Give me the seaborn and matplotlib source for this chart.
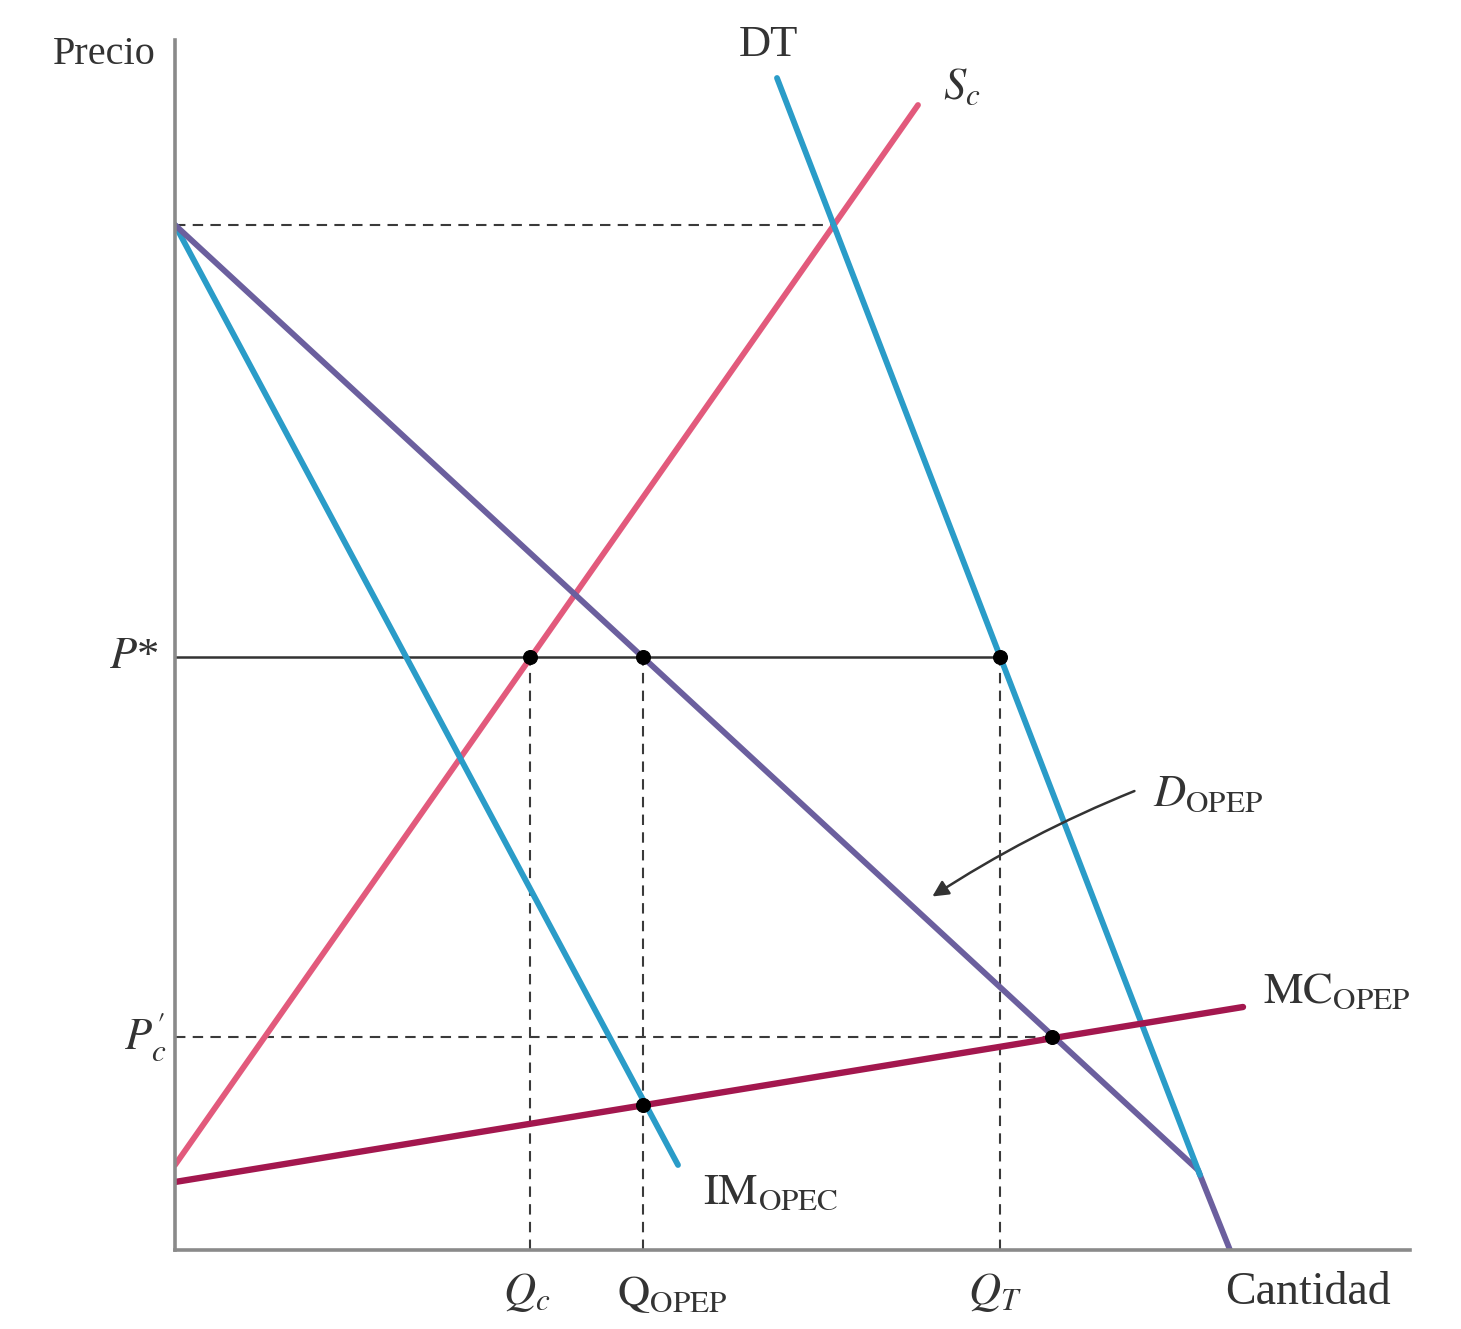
import matplotlib
matplotlib.use("Agg")
import matplotlib.pyplot as plt
import seaborn as sns
import numpy as np

sns.set_theme(style="white")
plt.rcParams['font.family'] = ['Liberation Serif', 'DejaVu Serif']
plt.rcParams['mathtext.fontset'] = 'stix'

# ---- data (quantity, price) ----
dt_q = [60.2, 102.5]
dt_p = [117.2, 7.5]
dopep_q = [0.0, 102.3, 105.5]
dopep_p = [102.5, 8.0, 0.0]
sc_q = [0.0, 74.3]
sc_p = [8.5, 114.5]
im_q = [0.0, 50.3]
im_p = [102.5, 8.5]
mc_q = [0.0, 106.8]
mc_p = [6.8, 24.3]

p_star = 59.3
p_c = 21.3
p_top = 102.5
q_top = 65.9
q_c = 35.5
q_opep = 46.8
q_t = 82.5
q_pc = 87.7

dot_q = [q_c, q_opep, q_t, q_opep, q_pc]
dot_p = [p_star, p_star, p_star, 14.5, p_c]

W, H = 1461, 1329
fig = plt.figure(figsize=(W / 100, H / 100), dpi=100)
ax = fig.add_axes([175 / W, (H - 1250) / H, (1410 - 175) / W, (1250 - 40) / H])
ax.set_xlim(0, 123.5)
ax.set_ylim(0, 121)

col_cyan = "#2a9cc8"
col_pink = "#e25a7c"
col_purple = "#6b5f9e"
col_mc = "#a3174e"
dash_col = "#3a3a3a"

# dashed guide lines
dls = (0, (5, 3.5))
ax.plot([0, q_top], [p_top, p_top], ls=dls, color=dash_col, lw=1.5)
ax.plot([0, q_pc], [p_c, p_c], ls=dls, color=dash_col, lw=1.5)
for q in [q_c, q_opep, q_t]:
    ax.plot([q, q], [0, p_star], ls=dls, color=dash_col, lw=1.5)
# P* solid
ax.plot([0, q_t], [p_star, p_star], color="#333333", lw=1.8)

lw = 4.2
sns.lineplot(x=sc_q, y=sc_p, ax=ax, color=col_pink, lw=lw, sort=False)
sns.lineplot(x=im_q, y=im_p, ax=ax, color=col_cyan, lw=lw, sort=False)
sns.lineplot(x=dopep_q, y=dopep_p, ax=ax, color=col_purple, lw=lw, sort=False)
sns.lineplot(x=dt_q, y=dt_p, ax=ax, color=col_cyan, lw=lw, sort=False)
sns.lineplot(x=mc_q, y=mc_p, ax=ax, color=col_mc, lw=lw + 0.4, sort=False)

sns.scatterplot(x=dot_q, y=dot_p, ax=ax, color="black", s=100, zorder=5, edgecolor="black")

# axes styling
for s in ["top", "right"]:
    ax.spines[s].set_visible(False)
for s in ["left", "bottom"]:
    ax.spines[s].set_color("#8a8a8a")
    ax.spines[s].set_linewidth(2.6)
ax.set_xticks([])
ax.set_yticks([])
ax.set_xlabel("")
ax.set_ylabel("")

fs = 32
tc = "#333333"
def px(x, y):
    return (x - 175) / 10, (1250 - y) / 10

kw = dict(color=tc, clip_on=False)
ax.text(*px(156, 55), "Precio", ha="right", va="center", fontsize=29, **kw)
ax.text(*px(768, 45), "DT", ha="center", va="center", fontsize=fs, **kw)
ax.text(*px(943, 88), r"$S_c$", ha="left", va="center", fontsize=fs, **kw)
ax.text(*px(158, 657), r"$P$*", ha="right", va="center", fontsize=fs, **kw)
ax.text(*px(166, 1037), r"$P_c^{\prime}$", ha="right", va="center", fontsize=fs, **kw)
ax.text(*px(1153, 795), r"$D_{\mathrm{OPEP}}$", ha="left", va="center", fontsize=fs, **kw)
ax.text(*px(1263, 992), r"$\mathrm{MC_{OPEP}}$", ha="left", va="center", fontsize=fs, **kw)
ax.text(*px(703, 1193), r"$\mathrm{IM_{OPEC}}$", ha="left", va="center", fontsize=fs, **kw)
ax.text(*px(527, 1293), r"$Q_c$", ha="center", va="center", fontsize=fs, **kw)
ax.text(*px(672, 1295), r"$\mathrm{Q_{OPEP}}$", ha="center", va="center", fontsize=fs, **kw)
ax.text(*px(995, 1293), r"$Q_T$", ha="center", va="center", fontsize=fs, **kw)
ax.text(*px(1308, 1293), "Cantidad", ha="center", va="center", fontsize=33, **kw)

ax.annotate("", xy=px(930, 898), xytext=px(1137, 790),
            arrowprops=dict(arrowstyle="-|>", color="#333333", lw=1.8,
                            connectionstyle="arc3,rad=0.05", mutation_scale=24))

fig.savefig("out.png", dpi=100, facecolor="white")
